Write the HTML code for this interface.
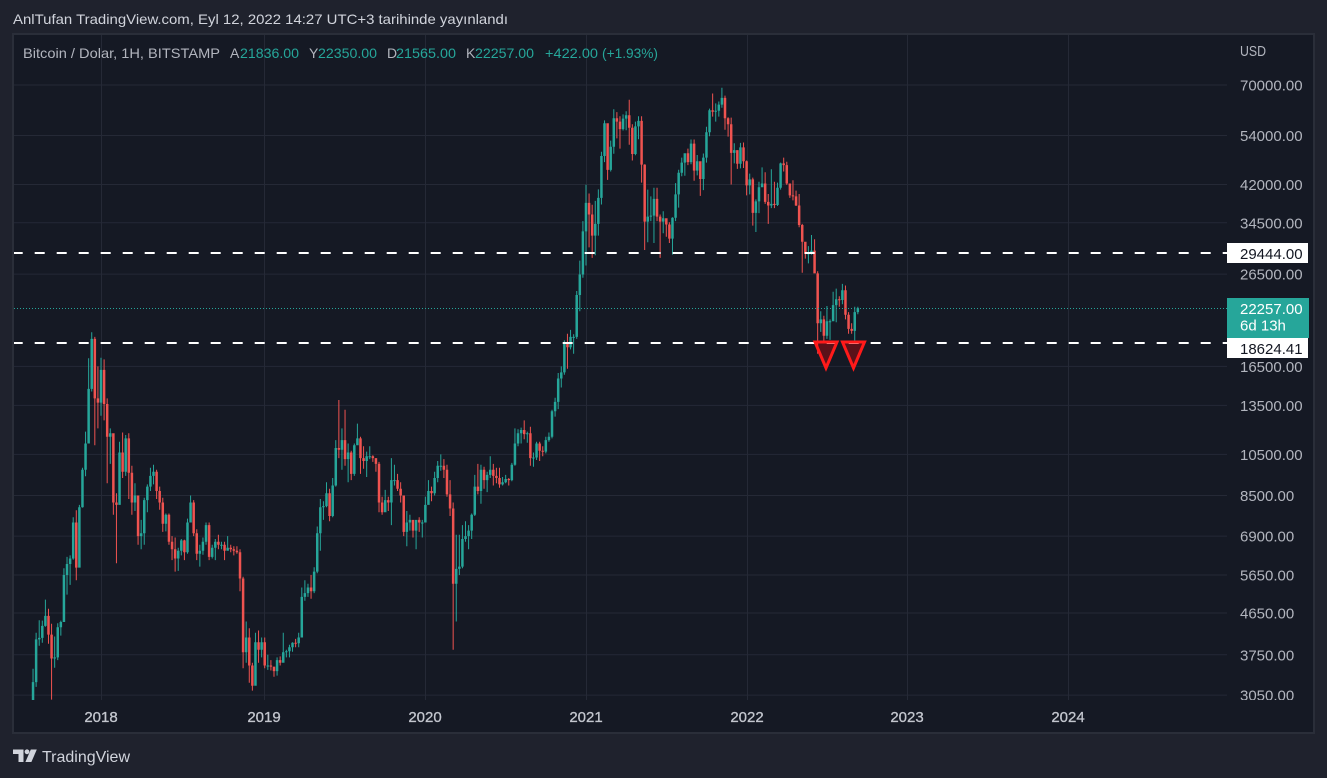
<!DOCTYPE html>
<html><head><meta charset="utf-8">
<style>
html,body{margin:0;padding:0;background:#1f222d;width:1327px;height:778px;overflow:hidden}
svg{display:block}
text{font-family:"Liberation Sans",sans-serif}
</style></head><body>
<svg width="1327" height="778" viewBox="0 0 1327 778" xmlns="http://www.w3.org/2000/svg">
<defs><clipPath id="pc"><rect x="14" y="35" width="1213" height="665"/></clipPath>
<clipPath id="ac"><rect x="1227" y="35" width="86" height="665"/></clipPath></defs>
<rect width="1327" height="778" fill="#1f222d"/>
<text x="13" y="24" font-size="14" fill="#d1d4dc" textLength="495" lengthAdjust="spacingAndGlyphs">AnlTufan TradingView.com, Eyl 12, 2022 14:27 UTC+3 tarihinde yayınlandı</text>
<rect x="13" y="34" width="1301" height="699" fill="#151924" stroke="#2a2e39" stroke-width="2"/>
<g stroke="#252936" stroke-width="1" fill="none">
<path d="M14 85H1227M14 135.5H1227M14 184.5H1227M14 222.8H1227M14 274.1H1227M14 366.4H1227M14 405.4H1227M14 454.4H1227M14 495.5H1227M14 536.1H1227M14 575H1227M14 613H1227M14 654.8H1227M14 695.1H1227"/>
<path d="M101.5 35V700M264.5 35V700M425.5 35V700M586.5 35V700M747.5 35V700M907.5 35V700M1068.5 35V700"/>
</g>
<g clip-path="url(#pc)">
<path id="g" fill="#26a69a" d=""/>
<path id="r" fill="#ef5350" d=""/>
<line x1="14" y1="308.5" x2="1227" y2="308.5" stroke="#26a69a" stroke-width="1" stroke-dasharray="1 2"/>
<line x1="12.7" y1="253" x2="1227" y2="253" stroke="#ffffff" stroke-width="2" stroke-dasharray="10 12"/>
<line x1="12.7" y1="343" x2="1227" y2="343" stroke="#ffffff" stroke-width="2" stroke-dasharray="10 12"/>
<polygon points="815,342 837,342 826,368" fill="rgba(255,0,0,0.3)" stroke="#ff1a1a" stroke-width="3"/>
<polygon points="842.5,342 864.5,342 853.5,368" fill="rgba(255,0,0,0.3)" stroke="#ff1a1a" stroke-width="3"/>
</g>
<g font-size="14">
<text x="23" y="58" fill="#b2b5be" textLength="197" lengthAdjust="spacingAndGlyphs">Bitcoin / Dolar, 1H, BITSTAMP</text>
<text x="230" y="58" fill="#b2b5be">A</text><text x="240" y="58" fill="#26a69a" textLength="59" lengthAdjust="spacingAndGlyphs">21836.00</text>
<text x="309" y="58" fill="#b2b5be">Y</text><text x="318" y="58" fill="#26a69a" textLength="59" lengthAdjust="spacingAndGlyphs">22350.00</text>
<text x="387" y="58" fill="#b2b5be">D</text><text x="396" y="58" fill="#26a69a" textLength="60" lengthAdjust="spacingAndGlyphs">21565.00</text>
<text x="466" y="58" fill="#b2b5be">K</text><text x="475" y="58" fill="#26a69a" textLength="59" lengthAdjust="spacingAndGlyphs">22257.00</text>
<text x="545" y="58" fill="#26a69a" textLength="53" lengthAdjust="spacingAndGlyphs">+422.00</text>
<text x="602" y="58" fill="#26a69a" textLength="56" lengthAdjust="spacingAndGlyphs">(+1.93%)</text>
</g>
<text x="1240" y="56" font-size="15" fill="#b2b5be" textLength="26" lengthAdjust="spacingAndGlyphs">USD</text>
<g font-size="15" fill="#b2b5be" clip-path="url(#ac)">
<text x="1240" y="90.5">70000.00</text>
<text x="1240" y="141">54000.00</text>
<text x="1240" y="190">42000.00</text>
<text x="1240" y="228.3">34500.00</text>
<text x="1240" y="279.6">26500.00</text>
<text x="1240" y="371.9">16500.00</text>
<text x="1240" y="410.9">13500.00</text>
<text x="1240" y="459.9">10500.00</text>
<text x="1240" y="501">8500.00</text>
<text x="1240" y="541.6">6900.00</text>
<text x="1240" y="580.5">5650.00</text>
<text x="1240" y="618.5">4650.00</text>
<text x="1240" y="660.3">3750.00</text>
<text x="1240" y="700.6">3050.00</text>
</g>
<rect x="1227" y="243" width="81" height="20" fill="#ffffff"/>
<text x="1240" y="259" font-size="15" fill="#131722">29444.00</text>
<rect x="1227" y="298" width="82" height="40" fill="#26a69a"/>
<text x="1240" y="314" font-size="15" fill="#ffffff">22257.00</text>
<text x="1240" y="330.5" font-size="15" fill="#ffffff">6d 13h</text>
<rect x="1227" y="338" width="81" height="20" fill="#ffffff"/>
<text x="1240" y="354" font-size="15" fill="#131722">18624.41</text>
<g font-size="15" fill="#c3c6ce" text-anchor="middle" stroke="#c3c6ce" stroke-width="0.3">
<text x="101" y="722">2018</text>
<text x="264" y="722">2019</text>
<text x="425" y="722">2020</text>
<text x="586" y="722">2021</text>
<text x="747" y="722">2022</text>
<text x="907" y="722">2023</text>
<text x="1068" y="722">2024</text>
</g>
<g fill="#d1d4dc">
<path d="M13 749.5h10.5v12.5h-5v-8h-5.5z"/>
<circle cx="27" cy="751.8" r="2.4"/>
<path d="M30.8 749.5h6l-5.4 12.5h-6z"/>
<text x="42" y="762" font-size="16" textLength="88" lengthAdjust="spacingAndGlyphs">TradingView</text>
</g>
</svg>
<script>
var S=[
[-154,[[3260,3490,2680],[4060,4200,3180],[4090,4480,3930],[4350,4470,3990],[4580,4980,4330],[4160,4750,3970],[3680,4400,2980],[3700,4120,3510],[4320,4410,3650],[4440,4470,4140],[5650,5850,4510],[5980,6200,5110],[6150,6250,5370],[7400,7600,6110],[5870,7880,5500],[8000,8100,5870],[9700,9800,7990],[11100,11800,9380],[14700,17200,11100],[19000,19660,14500],[14000,19200,11000],[13700,16500,12000]]],
[0,[[16200,17250,12800],[13600,17100,12500],[11500,14000,9050],[11700,12000,10000],[8200,11700,7700],[8100,8600,6000],[10600,11200,8100],[9600,11750,9300],[11400,11600,9400],[9550,11700,8350],[8200,9900,7700],[8500,9050,7850],[6900,8500,6600],[7000,7500,6450],[8300,8400,6600],[8900,9000,7800],[9400,9800,8700],[9600,9950,9000],[8700,9700,8350],[8200,8900,7900],[7350,8400,7050],[7700,7750,7070],[6700,7750,6600],[6450,6900,6100],[6150,6850,5750],[6400,6500,5770],[6750,6800,6250],[6350,6770,6100],[7400,7550,6300],[8200,8500,7400],[7000,8300,6900],[6300,7150,6100],[6400,6600,5900],[6700,6850,6270],[7300,7400,6600],[6200,7400,6100],[6500,6600,6150],[6700,6800,6100],[6600,6950,6450],[6600,6700,6450],[6400,6700,6100],[6500,6900,6400],[6450,6600,6350],[6400,6550,6250],[6350,6550,6300],[5550,6450,5200],[3800,5600,3500],[4100,4450,3600],[3550,4300,3250],[3200,3600,3120],[4000,4200,3200],[3850,4250,3600],[4000,4100,3700]]],
[371,[[3550,4100,3500],[3550,3750,3470],[3530,3650,3460],[3450,3500,3350],[3650,3700,3370],[3600,3720,3550],[3800,4200,3650],[3820,3850,3700],[3900,3950,3700],[3990,4000,3810],[3980,4070,3900],[4100,4200,3900],[5050,5300,4100],[5150,5500,4950],[5300,5400,5050],[5200,5650,5000],[5750,5880,5150],[7000,7250,5700],[8000,8350,6400],[8050,8250,7500],[8600,9100,8000],[7650,8800,7450],[8950,9300,7600],[10850,11300,8900],[10750,13880,10300],[11300,12000,9700],[10250,13200,9900],[10600,11100,9100],[9500,10700,9200],[11000,11100,9400],[11400,12300,11000],[10300,11500,9500],[10150,10950,9750],[10400,10650,9350],[10400,10950,10250],[10300,10450,10100],[10000,10300,9600],[8200,10100,7800],[7800,8450,7700],[8300,8750,7800],[8200,8450,7850],[9200,10300,7300],[9200,9950,8950],[8800,9500,8700],[8500,9100,8200],[7050,8500,6900],[7400,7850,6550],[7500,7700,7100],[7100,7400,6850],[7500,7500,6450],[7400,7600,7050],[7400,7500,6850]]],
[735,[[8100,8450,7700],[8700,9200,8100],[8600,8900,8250],[9300,9600,8500],[9900,10150,9100],[9900,10500,9650],[9700,10250,9300],[8550,9950,8450],[7950,9200,7650],[5400,8200,3850],[5830,6950,4450],[5900,6950,5650],[6800,7300,5850],[6900,7450,6700],[7100,7300,6450],[7700,7750,6800],[8900,9450,7650],[8700,10000,8550],[9700,9950,8150],[9200,9850,8800],[9450,9600,8650],[9700,10400,9300],[9400,10000,8950],[9300,9800,9050],[9000,9800,8850],[9100,9350,8950],[9250,9450,9050],[9200,9300,8950],[9950,10050,9150],[11100,12000,9900],[11700,11950,10950],[11900,12050,11100],[11650,12500,11350],[11700,11800,11150],[10300,12100,9900],[10330,10600,9850],[11100,11200,10200],[10700,11200,10150],[10650,10950,10400],[11300,11500,10550],[11500,11750,11200],[13100,13200,11400],[13750,14050,12750],[15500,15950,13250],[16000,16500,14800],[18700,18850,15800],[18200,19500,16300],[19200,19900,18000],[19200,19450,17600],[23800,24300,19000],[26450,28400,21900],[33000,34800,26000]]],
[1099,[[38200,41950,27700],[36000,40100,30400],[32300,37850,28800],[34300,38600,29200],[39200,40950,32300],[48600,49700,37900],[57500,58350,47100],[45250,57500,43000],[51000,52600,44900],[59000,61800,49200],[58000,60900,53200],[55800,59600,50500],[58900,60200,55400],[59900,61200,55500],[56200,64900,51500],[49100,57200,47500],[56600,58000,48800],[58200,59600,53000],[46500,59600,42400],[34700,46600,30000],[35600,40900,31200],[35800,39500,34800],[39000,41300,31100],[35600,41300,34800],[34700,36000,28800],[35300,36600,32700],[34200,35100,32100],[31800,34600,31100],[35400,35500,29300],[39900,42300,34800],[44600,45300,37300],[47000,48200,43800],[49300,49300,43900],[47100,50500,46400],[51800,52900,46600],[45100,52900,42800],[47300,48850,44000],[43200,45500,39600],[48200,49250,40800],[54900,56500,47000],[61500,62000,53800],[61000,67000,59500],[61300,63700,58000],[63300,64300,59500],[65500,69000,62300],[59000,66300,55600],[57200,59300,53700],[49400,59200,42000],[50100,51900,46800],[46700,50100,45500],[50800,52000,45600],[47300,52100,45700]]],
[1463,[[41800,47500,39700],[43100,44400,39900],[36300,43500,34000],[38500,38900,32900],[41400,42600,36250],[42200,45850,41700],[38400,44700,38000],[37700,40000,34300],[38000,45400,37200],[37800,42600,37200],[41300,42400,37600],[46800,47000,40900],[46400,48200,44900],[42200,47200,41900],[39700,41600,39200],[39500,42900,38700],[37700,40700,37600],[34100,40000,33700],[31300,34300,26700],[29400,31300,28700],[29500,30600,28000],[29900,32400,29300],[26600,31700,26600],[20600,26900,17600],[21000,21900,19700],[19300,21400,18700],[20800,22500,19000],[20800,21000,18900],[22600,24200,20800],[23300,24600,20700],[23200,23650,22400],[24400,25200,22700],[21500,25000,21000],[20000,21800,19500],[19800,20600,19500],[21800,22400,18600],[22257,22400,21560]]]
];
function Y(p){return 85+(11.15625-Math.log(p))*194.7}
var g='',r='',o=2870;
S.forEach(function(s){s[1].forEach(function(a,j){
 var x=101+(s[0]+7*j)*0.4413,c=a[0],h=Math.max(a[1],o,c),l=Math.min(a[2],o,c);
 var yt=Y(Math.max(o,c)),yb=Y(Math.min(o,c));if(yb-yt<1){yb=yt+1;}
 var p='M'+(x-1.25).toFixed(2)+' '+yt.toFixed(1)+'h2.5V'+yb.toFixed(1)+'h-2.5Z'+
       'M'+(x-0.5).toFixed(2)+' '+Y(h).toFixed(1)+'h1V'+Y(l).toFixed(1)+'h-1Z';
 if(c>=o){g+=p;}else{r+=p;} o=c;});});
document.getElementById('g').setAttribute('d',g);
document.getElementById('r').setAttribute('d',r);
</script>
</body></html>
